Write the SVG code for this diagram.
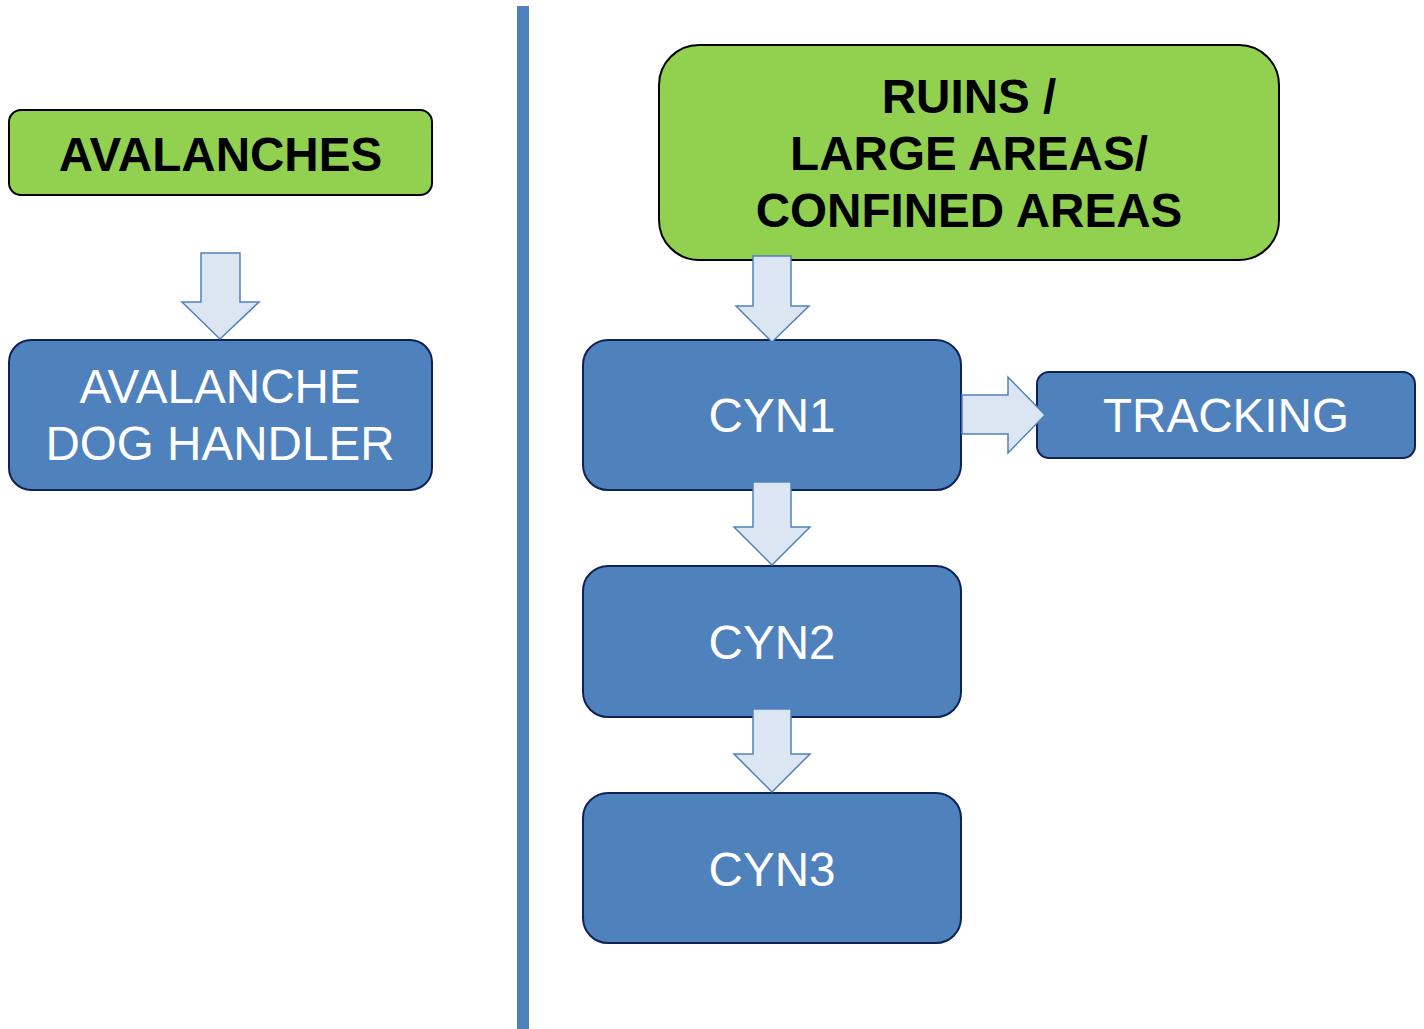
<svg xmlns="http://www.w3.org/2000/svg" width="1424" height="1029" viewBox="0 0 1424 1029">
<defs>
<style>
.green{fill:#92D050;stroke:#000;stroke-width:2}
.blue{fill:#4F81BD;stroke:#0E2354;stroke-width:2}
.bt{font-family:"Liberation Sans",Arial,sans-serif;font-weight:bold;font-size:47.6px;fill:#000;text-anchor:middle}
.wt{font-family:"Liberation Sans",Arial,sans-serif;font-size:47.6px;fill:#fff;text-anchor:middle}
.arr{fill:#DCE6F2;stroke:#4F81BD;stroke-width:1.5;stroke-linejoin:miter}
</style>
</defs>
<rect width="1424" height="1029" fill="#fff"/>
<rect x="517" y="6" width="12" height="1023" fill="#4F81BD"/>
<g id="avalanches"><rect class="green" x="9" y="110" width="423" height="85" rx="12"/><text class="bt" x="220.5" y="171">AVALANCHES</text></g>
<g id="avalanche-dog-handler"><rect class="blue" x="9" y="340" width="423" height="150" rx="22"/><text class="wt" x="220" y="403">AVALANCHE</text><text class="wt" x="220" y="460">DOG HANDLER</text></g>
<g id="ruins"><rect class="green" x="659" y="45" width="620" height="215" rx="40"/><text class="bt" x="969" y="113">RUINS /</text><text class="bt" x="969" y="170">LARGE AREAS/</text><text class="bt" x="969" y="227">CONFINED AREAS</text></g>
<g id="cyn1"><rect class="blue" x="583" y="340" width="378" height="150" rx="25"/><text class="wt" x="772" y="432">CYN1</text></g>
<g id="tracking"><rect class="blue" x="1037" y="372" width="378" height="86" rx="12"/><text class="wt" x="1226" y="432">TRACKING</text></g>
<g id="cyn2"><rect class="blue" x="583" y="566" width="378" height="151" rx="25"/><text class="wt" x="772" y="659">CYN2</text></g>
<g id="cyn3"><rect class="blue" x="583" y="793" width="378" height="150" rx="25"/><text class="wt" x="772" y="886">CYN3</text></g>
<g id="connectors">
<polygon class="arr" points="201,253 240,253 240,302 259,302 220,339 182,302 201,302"/>
<polygon class="arr" points="753,256 791,256 791,306 809,306 772,342 736,306 753,306"/>
<polygon class="arr" points="753,482 791,482 791,527 810,527 772,565 734,527 753,527"/>
<polygon class="arr" points="753,709 791,709 791,754 810,754 772,792 734,754 753,754"/>
<polygon class="arr" points="962,395 1008,395 1008,377 1045,415 1008,453 1008,434 962,434"/>
</g>
</svg>
